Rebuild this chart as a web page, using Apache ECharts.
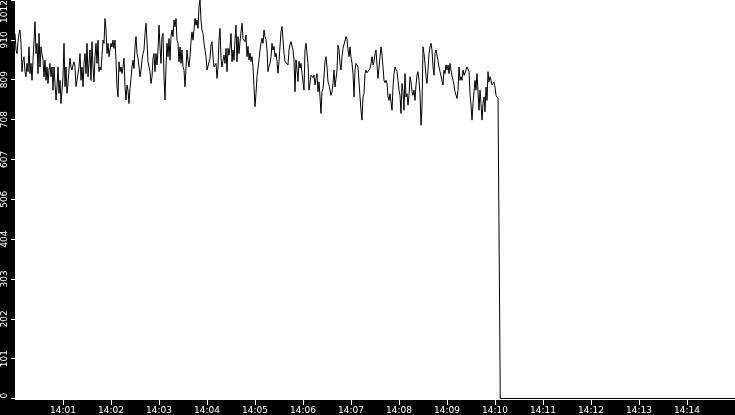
<html style="height: 100%">

<head>
    <meta charset="utf-8">
</head>

<body style="height: 100%; margin: 0; background: #000">
    <div id="container" style="width: 735px; height: 415px"></div>

    <script type="text/javascript" src="https://cdn.jsdelivr.net/npm/echarts@6/dist/echarts.min.js"></script>

    <script type="text/javascript">
        var chartDom = document.getElementById('container');
        var myChart = echarts.init(chartDom);
        var option;

        // readings, one every 1.25 s from 14:00:00
        var stepSec = 1.25;
        var load = [
            927, 885, 876, 906, 927, 936, 902, 830, 859, 868,
            830, 817, 851, 830, 893, 825, 851, 808, 859, 906,
            957, 876, 902, 825, 927, 842, 893, 876, 859, 817,
            859, 808, 842, 800, 834, 851, 817, 842, 783, 842,
            800, 758, 792, 842, 775, 808, 749, 783, 817, 902,
            792, 842, 775, 800, 834, 864, 842, 834, 847, 855,
            842, 792, 808, 825, 842, 876, 808, 842, 792, 851,
            876, 825, 902, 817, 851, 885, 808, 906, 842, 804,
            868, 902, 851, 910, 830, 842, 834, 872, 910, 902,
            965, 936, 876, 902, 868, 885, 902,
            // 14:02:01
            893, 910, 889, 910, 859, 792, 766, 855, 830, 842,
            825, 842, 864, 792, 758, 796, 783, 749, 787, 813,
            842, 859, 838, 893, 919, 876, 864, 842, 817, 834,
            859, 876, 885, 927, 953, 906, 855, 859, 830, 800,
            817, 864, 876, 830, 876, 847, 885, 948, 893, 851,
            919, 927, 817, 758, 842, 902, 868, 914, 859, 919,
            936, 919, 961, 944, 965, 910,
            // 14:03:24
            902, 855, 893, 851, 885, 842, 834, 792, 842, 885,
            859, 842, 868, 906, 931, 910, 936, 965, 948, 961,
            940, 995, 1012, 961, 936, 927, 902, 885, 868, 834,
            830, 834, 864, 898, 906, 868, 842, 838, 851, 813,
            842, 910, 940, 864, 842, 859, 872, 851, 889, 830,
            889, 872, 893, 927, 855, 885, 859, 910, 948, 855,
            919, 876, 906, 910, 953, 914,
            // 14:04:46
            915, 906, 923, 868, 894, 860, 877, 856, 868, 843,
            792, 741, 775, 817, 839, 860, 885, 902, 915, 902,
            936, 919, 911, 885, 830, 843, 851, 868, 902, 885,
            894, 868, 877, 856, 826, 856, 894, 932, 945, 911,
            877, 856, 851, 856, 847, 885, 898, 906, 911, 885,
            860, 779, 860, 834, 805, 856, 839, 851, 826, 826,
            783, 885, 902, 877, 851, 783,
            // 14:06:09
            800, 821, 817, 815, 821, 796,
            813, 825, 779, 804, 766, 724, 779, 787, 817, 855,
            868, 842, 804, 796, 783, 770, 779, 800, 834, 791,
            791, 834, 897, 886, 851, 834, 868, 889, 885, 885,
            919, 912, 885, 868, 893, 868, 851, 825, 766, 834,
            851, 855, 842, 804, 766, 732, 707, 766, 774, 825,
            834, 827, 825, 832, 838, 851, 868, 847, 855, 876,
            885, 847, 813, 808, 868, 893, 872, 842, 808, 802,
            808, 800, 766, 757, 774, 774, 732, 791, 825, 842,
            838, 830, 808, 783, 770, 724,
            // 14:08:04
            800, 779, 732, 825, 766, 774, 745, 770, 817, 804,
            779, 770, 783, 757, 796, 821, 830, 808, 774, 694,
            741, 893, 876, 851, 817, 800, 834, 876, 893, 902,
            885, 842, 821, 876, 885, 872, 859, 842, 830, 834,
            827, 796, 834, 825, 847, 834, 847, 825, 851, 834,
            819, 808, 796, 779, 783, 762, 783, 842, 808, 817,
            808, 834, 821, 825, 834, 842, 845, 830, 774, 745,
            707, 749, 779, 808, 783, 825, 825, 732, 783, 749,
            707, 749, 766, 728, 791, 757, 830, 804, 817, 808,
            796, 800, 804, 791, 770, 766, 762
        ];

        // the drop just after 14:10, then flat at zero
        var dropTimes = [605.2, 606.4, 606.6, 900];
        var dropValues = [376, 376, 0, 0];

        var timeLabels = ['14:01', '14:02', '14:03', '14:04', '14:05', '14:06', '14:07',
            '14:08', '14:09', '14:10', '14:11', '14:12', '14:13', '14:14'];

        var seriesData = [];
        for (var i = 0; i < load.length; i++) {
            seriesData.push([i * stepSec, load[i]]);
        }
        for (var j = 0; j < dropTimes.length; j++) {
            seriesData.push([dropTimes[j], dropValues[j]]);
        }

        var tickSecs = timeLabels.map(function (s) {
            return (parseInt(s.split(':')[1], 10)) * 60;
        });

        option = {
            backgroundColor: '#000',
            animation: false,
            graphic: [{
                type: 'rect',
                left: 15,
                top: 0,
                z: -10,
                silent: true,
                shape: { width: 720, height: 400 },
                style: { fill: '#fff' }
            }],
            grid: {
                left: 15,
                right: 0,
                top: 0,
                bottom: 16.5,
                containLabel: false,
                outerBoundsMode: 'none'
            },
            xAxis: {
                type: 'value',
                min: 0,
                max: 900,
                interval: 60,
                axisLine: { show: false },
                splitLine: { show: false },
                axisTick: {
                    length: 6.5,
                    customValues: tickSecs,
                    lineStyle: { color: '#fff', width: 1 }
                },
                axisLabel: {
                    customValues: tickSecs,
                    margin: 8,
                    color: '#fff',
                    fontSize: 9,
                    fontFamily: 'DejaVu Sans',
                    formatter: function (v) {
                        return timeLabels[tickSecs.indexOf(v)] || '';
                    }
                }
            },
            yAxis: {
                type: 'value',
                min: 0,
                max: 1012,
                interval: 101.2,
                axisLine: { show: false },
                splitLine: { show: false },
                axisTick: {
                    length: 4,
                    lineStyle: { color: '#fff', width: 1 }
                },
                axisLabel: {
                    rotate: 90,
                    margin: 6,
                    color: '#fff',
                    fontSize: 9,
                    fontFamily: 'DejaVu Sans',
                    alignMinLabel: 'left',
                    alignMaxLabel: 'right',
                    formatter: function (v) {
                        return Math.floor(v + 1e-6);
                    }
                }
            },
            series: [{
                type: 'line',
                data: seriesData,
                showSymbol: false,
                symbol: 'none',
                lineStyle: { color: '#000', width: 1 }
            }]
        };

        option && myChart.setOption(option);

    </script>
</body>

</html>
